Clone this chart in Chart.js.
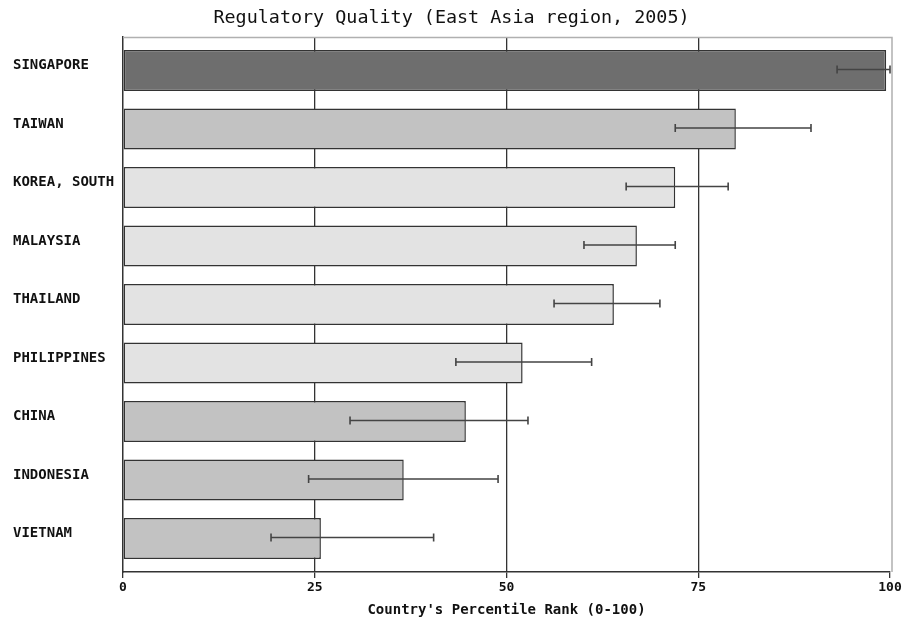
<!DOCTYPE html>
<html>
<head>
<meta charset="utf-8">
<script src="https://cdn.jsdelivr.net/npm/chart.js@4.4.1/dist/chart.umd.min.js"></script>
<style>
html,body{margin:0;padding:0;background:#fff;}
#wrap{width:904px;height:623px;}
</style>
</head>
<body>
<div id="wrap"><canvas id="c" width="904" height="623"></canvas></div>
<script>
const countries = ["SINGAPORE","TAIWAN","KOREA, SOUTH","MALAYSIA","THAILAND","PHILIPPINES","CHINA","INDONESIA","VIETNAM"];
const percentileRank = [99.5, 79.9, 72.0, 67.0, 64.0, 52.1, 44.7, 36.6, 25.8];
const lowerBound = [93.1, 72.0, 65.6, 60.1, 56.2, 43.4, 29.6, 24.2, 19.3];
const upperBound = [100, 89.7, 78.9, 72.0, 70.0, 61.1, 52.8, 48.9, 40.5];
const barColors = ["#6e6e6e","#c2c2c2","#e3e3e3","#e3e3e3","#e3e3e3","#e3e3e3","#c2c2c2","#c2c2c2","#c2c2c2"];
const xTicks = [0, 25, 50, 75, 100];

const FONT = "'DejaVu Sans Mono', 'Liberation Mono', monospace";

const frame = {
  id: 'frame',
  beforeDatasetsDraw(chart) {
    const {ctx, chartArea: a} = chart;
    ctx.save();
    ctx.strokeStyle = '#b0b0b0';
    ctx.lineWidth = 1.5;
    ctx.beginPath();
    ctx.moveTo(a.left, a.top + 0.5);
    ctx.lineTo(a.right + 2, a.top + 0.5);
    ctx.lineTo(a.right + 2, a.bottom);
    ctx.stroke();
    ctx.restore();
  }
};

const errorBars = {
  id: 'errorBars',
  afterDatasetsDraw(chart) {
    const {ctx} = chart;
    const xs = chart.scales.x;
    const meta = chart.getDatasetMeta(0);
    ctx.save();
    ctx.strokeStyle = '#444';
    ctx.lineWidth = 1.6;
    meta.data.forEach((bar, i) => {
      const y = bar.y - 1;
      const x1 = xs.getPixelForValue(lowerBound[i]);
      const x2 = xs.getPixelForValue(upperBound[i]);
      ctx.beginPath();
      ctx.moveTo(x1, y); ctx.lineTo(x2, y);
      ctx.moveTo(x1, y - 4); ctx.lineTo(x1, y + 4);
      ctx.moveTo(x2, y - 4); ctx.lineTo(x2, y + 4);
      ctx.stroke();
    });
    ctx.restore();
  }
};

new Chart(document.getElementById('c'), {
  type: 'bar',
  data: {
    datasets: [{
      data: percentileRank.map((v, i) => ({ x: v, y: i })),
      backgroundColor: barColors,
      borderColor: '#333',
      borderWidth: 1.5,
      borderSkipped: false,
      barPercentage: 0.7,
      categoryPercentage: 1.0
    }]
  },
  options: {
    indexAxis: 'y',
    responsive: false,
    animation: false,
    devicePixelRatio: 1,
    layout: { padding: { left: 13, right: 14, top: 0, bottom: 0 } },
    plugins: {
      legend: { display: false },
      tooltip: { enabled: false },
      title: {
        display: true,
        text: 'Regulatory Quality (East Asia region, 2005)',
        color: '#111',
        font: { family: FONT, size: 18.4, weight: 'normal' },
        padding: { top: 7, bottom: 7.9 }
      }
    },
    scales: {
      x: {
        type: 'linear',
        min: 0, max: 100,
        afterBuildTicks(scale) { scale.ticks = xTicks.map(v => ({value: v})); },
        afterFit(scale) { scale.height = 51; },
        ticks: {
          color: '#111',
          font: { family: FONT, size: 13, weight: 'bold' },
          padding: 2
        },
        grid: {
          color: (c) => (c.tick && (c.tick.value === 0 || c.tick.value === 100)) ? 'rgba(0,0,0,0)' : '#333',
          tickColor: '#333',
          tickLength: 6,
          lineWidth: 1.3
        },
        border: { display: true, color: '#333', width: 1.5 },
        title: {
          display: true,
          text: "Country's Percentile Rank (0-100)",
          color: '#111',
          font: { family: FONT, size: 14, weight: 'bold' },
          padding: { top: 2, bottom: 4 }
        }
      },
      y: {
        type: 'linear',
        reverse: true,
        offset: false,
        min: -0.573,
        max: 8.573,
        afterBuildTicks(scale) { scale.ticks = countries.map((_, i) => ({value: i})); },
        afterFit(scale) { scale.width = 110; },
        ticks: {
          color: '#111',
          crossAlign: 'far',
          labelOffset: -5,
          callback: (v) => countries[v] ?? '',
          font: { family: FONT, size: 14, weight: 'bold' }
        },
        grid: { offset: false, drawOnChartArea: false, drawTicks: false },
        border: { display: true, color: '#333', width: 1.5 }
      }
    }
  },
  plugins: [frame, errorBars]
});
</script>
</body>
</html>
